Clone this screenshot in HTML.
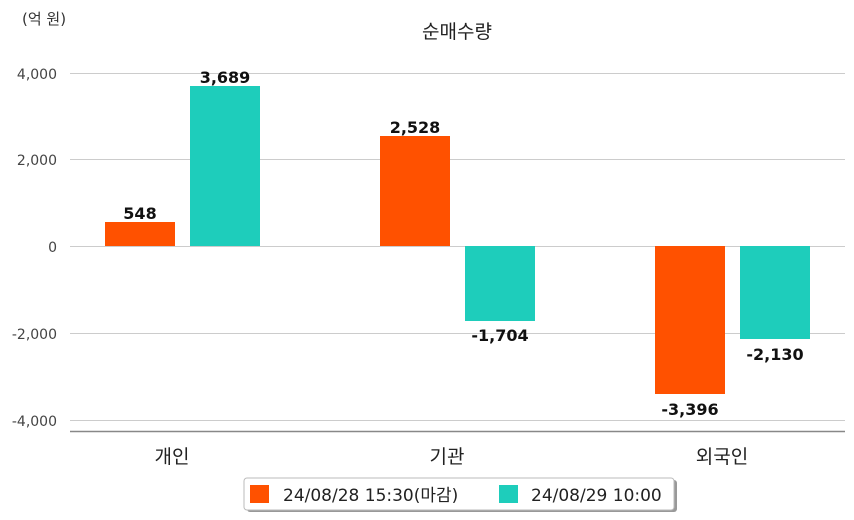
<!DOCTYPE html>
<html><head><meta charset="utf-8"><style>
html,body{margin:0;padding:0;background:#fff;}
svg{display:block;font-family:"DejaVu Sans","Noto Sans CJK KR",sans-serif;}
</style></head><body>
<svg width="854" height="520" viewBox="0 0 854 520">
<text x="22" y="24" font-size="15" fill="#333">(억 원)</text>
<text x="457" y="38" font-size="19" fill="#222" text-anchor="middle">순매수량</text>
<g stroke="#ccc" stroke-width="1">
<line x1="70" x2="845" y1="73.5" y2="73.5"/>
<line x1="70" x2="845" y1="159.5" y2="159.5"/>
<line x1="70" x2="845" y1="246.5" y2="246.5"/>
<line x1="70" x2="845" y1="333.5" y2="333.5"/>
<line x1="70" x2="845" y1="420.5" y2="420.5"/>
</g>
<line x1="70" x2="845" y1="431.5" y2="431.5" stroke="#888" stroke-width="1.5"/>
<g font-size="14" fill="#444" text-anchor="end">
<text x="57" y="79">4,000</text>
<text x="57" y="165">2,000</text>
<text x="57" y="252">0</text>
<text x="57" y="339">-2,000</text>
<text x="57" y="426">-4,000</text>
</g>
<g fill="#ff5100">
<rect x="105" y="222" width="70" height="24"/>
<rect x="380" y="136" width="70" height="110"/>
<rect x="655" y="246" width="70" height="148"/>
</g>
<g fill="#1ecdbb">
<rect x="190" y="86" width="70" height="160"/>
<rect x="465" y="246" width="70" height="75"/>
<rect x="740" y="246" width="70" height="93"/>
</g>
<g font-size="16" fill="#111" text-anchor="middle" font-weight="600">
<text x="140" y="219">548</text>
<text x="225" y="83">3,689</text>
<text x="415" y="133">2,528</text>
<text x="500" y="341">-1,704</text>
<text x="690" y="415">-3,396</text>
<text x="775" y="360">-2,130</text>
</g>
<g font-size="19" fill="#222" text-anchor="middle">
<text x="172" y="463">개인</text>
<text x="447" y="463">기관</text>
<text x="722" y="463">외국인</text>
</g>
<rect x="247" y="480" width="430" height="32" fill="#999" rx="3"/>
<rect x="244" y="478" width="430" height="32" fill="#fff" stroke="#bbb" rx="3"/>
<rect x="250" y="485" width="19" height="18" fill="#ff5100"/>
<text x="283" y="501" font-size="17" fill="#222">24/08/28 15:30(마감)</text>
<rect x="499" y="485" width="19" height="18" fill="#1ecdbb"/>
<text x="531" y="501" font-size="17" fill="#222">24/08/29 10:00</text>
</svg>
</body></html>
